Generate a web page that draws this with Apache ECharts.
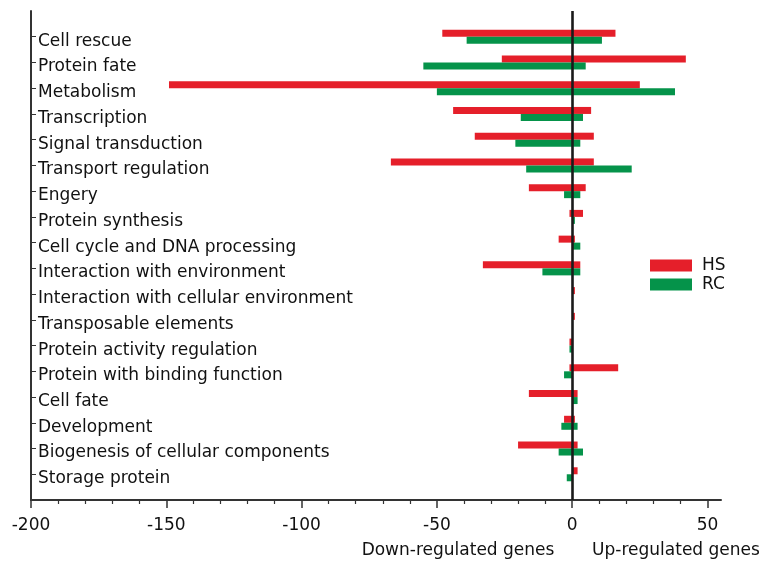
<!DOCTYPE html>
<html>
<head>
<meta charset="utf-8">
<script src="https://cdn.jsdelivr.net/npm/echarts@6/dist/echarts.min.js"></script>
<style>html,body{margin:0;padding:0;background:#fff}#c{width:763px;height:564px}</style>
</head>
<body>
<div id="c"></div>
<script>
var categories = ['Cell rescue','Protein fate','Metabolism','Transcription','Signal transduction','Transport regulation','Engery','Protein synthesis','Cell cycle and DNA processing','Interaction with environment','Interaction with cellular environment','Transposable elements','Protein activity regulation','Protein with binding function','Cell fate','Development','Biogenesis of cellular components','Storage protein'];
var hsDown = [-48,-26,-149,-44,-36,-67,-16,-1,-5,-33,0,0,-1,-1,-16,-3,-20,0];
var hsUp   = [16,42,25,7,8,8,5,4,1,3,1,1,0,17,2,1,2,2];
var rcDown = [-39,-55,-50,-19,-21,-17,-3,0,0,-11,0,0,-1,-3,0,-4,-5,-2];
var rcUp   = [11,5,38,4,3,22,3,1,3,3,0,0,0,0,2,2,4,0];
var xTicks = [-200,-150,-100,-50,0,50];
var legendNames = ['HS','RC'];
var axisTitles = ['Down-regulated genes','Up-regulated genes'];

var minorTicks = [];
for (var i = 0; i < xTicks.length; i++) {
  for (var k = 1; k < 5; k++) {
    var v = xTicks[i] + k * 10;
    if (v < 55) minorTicks.push(v);
  }
}
var FONT = 'DejaVu Sans';
var RED = '#E51F2A', GREEN = '#05934A';
var chart = echarts.init(document.getElementById('c'));
var yData = [''].concat(categories).concat(['']);
function pad(arr){ return [null].concat(arr).concat([null]); }

chart.setOption({
  animation: false,
  backgroundColor: '#fff',
  grid: { left: 31, right: 42, top: 11, bottom: 64, containLabel: false },
  legend: {
    data: legendNames, orient: 'vertical', left: 645, top: 252,
    itemWidth: 42, itemHeight: 12, itemGap: 2, icon: 'rect',
    textStyle: { fontFamily: FONT, fontSize: 17, color: '#111', padding: [0,0,0,5] }
  },
  xAxis: [{
    type: 'value', min: -200, max: 55, interval: 50,
    axisLine: { show: true, lineStyle: { color: '#333', width: 2 } },
    axisTick: { show: true, length: 8, customValues: xTicks, lineStyle: { color: '#333', width: 1.5 } },
    axisLabel: { customValues: xTicks, fontFamily: FONT, fontSize: 17, color: '#111', margin: 17 },
    splitLine: { show: false }
  }, {
    type: 'value', min: -200, max: 55, position: 'bottom',
    axisLine: { show: false },
    axisTick: { show: true, length: 4, customValues: minorTicks, lineStyle: { color: '#333', width: 1.2 } },
    axisLabel: { show: false },
    splitLine: { show: false }
  }],
  yAxis: {
    type: 'category', data: yData, inverse: true, boundaryGap: false,
    axisLine: { onZero: false, lineStyle: { color: '#333', width: 2 } },
    axisTick: { inside: true, length: 5, lineStyle: { color: '#333', width: 1 },
      interval: function(idx, val){ return val !== ''; } },
    axisLabel: { inside: true, margin: 7, interval: 0,
      formatter: function(v){ return v === '' ? '' : '{a|' + v + '}'; },
      rich: { a: { fontFamily: FONT, fontSize: 17, color: '#111', lineHeight: 20, padding: [9,0,0,0] } } }
  },
  graphic: [
    { type: 'text', x: 458, y: 551, style: { text: axisTitles[0], font: '17px "DejaVu Sans"', fill: '#111', textAlign: 'center', textVerticalAlign: 'middle' } },
    { type: 'text', x: 676, y: 551, style: { text: axisTitles[1], font: '17px "DejaVu Sans"', fill: '#111', textAlign: 'center', textVerticalAlign: 'middle' } }
  ],
  series: [
    { name: 'HS', type: 'bar', stack: 'HS', data: pad(hsDown), barWidth: 7, barGap: '0%', itemStyle: { color: RED },
      markLine: { silent: true, symbol: 'none', label: { show: false }, lineStyle: { color: '#1a1a1a', width: 2.6, type: 'solid' }, data: [{ xAxis: 0 }] } },
    { name: 'HS', type: 'bar', stack: 'HS', data: pad(hsUp), barWidth: 7, barGap: '0%', itemStyle: { color: RED } },
    { name: 'RC', type: 'bar', stack: 'RC', data: pad(rcDown), barWidth: 7, barGap: '0%', itemStyle: { color: GREEN } },
    { name: 'RC', type: 'bar', stack: 'RC', data: pad(rcUp), barWidth: 7, barGap: '0%', itemStyle: { color: GREEN } }
  ]
});
</script>
</body>
</html>
